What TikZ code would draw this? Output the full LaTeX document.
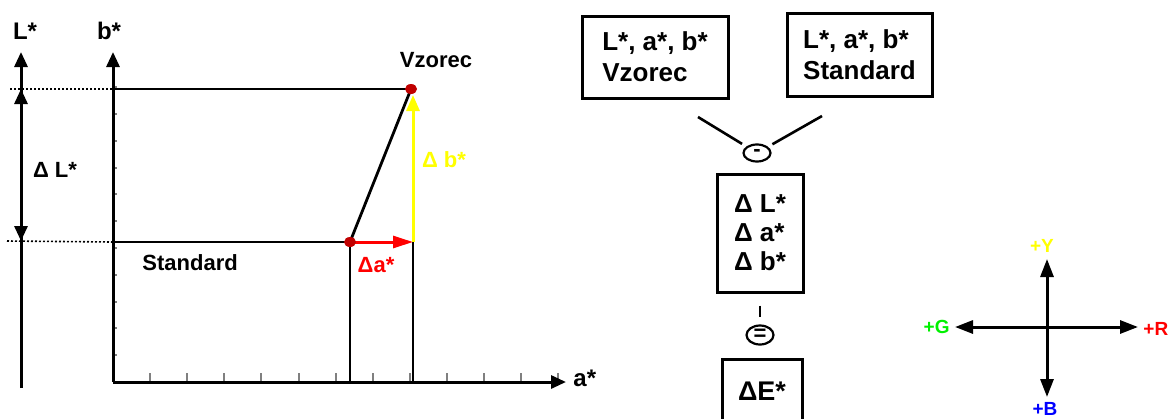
\documentclass[tikz,border=0pt]{standalone}
\usepackage{fontspec}
\setmainfont{Liberation Sans}
\usetikzlibrary{arrows.meta,shapes.geometric}
\definecolor{dotred}{RGB}{192,0,0}
\definecolor{pureyellow}{RGB}{255,255,0}
\definecolor{puregreen}{RGB}{0,240,0}
\definecolor{pureblue}{RGB}{0,0,255}
\definecolor{purered}{RGB}{255,0,0}

\begin{document}
\begin{tikzpicture}[
    x=0.5pt,y=-0.5pt,
    font=\bfseries,
    axis/.style={draw=black, line width=1.5pt, -{Triangle[length=7.5pt,width=6.5pt]}},
    refline/.style={draw=black, line width=1.4pt},
    guide/.style={draw=black, line width=0.8pt, dash pattern=on 1pt off 1pt},
    tickmark/.style={draw=gray, line width=1pt},
    sample/.style={ellipse, fill=dotred, inner sep=0pt, minimum width=6pt, minimum height=5pt},
    valbox/.style={draw=black, line width=1.5pt, align=left, inner sep=0pt,
        font=\fontsize{13}{15.5}\selectfont\bfseries},
    opnode/.style={ellipse, draw=black, line width=1.1pt, inner sep=0pt,
        minimum width=13.5pt, minimum height=8.5pt, font=\fontsize{11}{11}\selectfont\bfseries},
    link/.style={draw=black, line width=1.3pt},
    lab/.style={font=\fontsize{11}{13}\selectfont\bfseries, inner sep=0pt},
    axlab/.style={font=\fontsize{12}{14}\selectfont\bfseries, inner sep=0pt},
    dirlab/.style={font=\fontsize{9.5}{11}\selectfont\bfseries, inner sep=0pt},
    dirarrow/.style={draw=black, line width=1.5pt, -{Triangle[length=9pt,width=6.5pt]}}
]

\useasboundingbox (0,0) rectangle (1172,418);

\begin{scope}
    \coordinate (O) at (113,382);
    \coordinate (bEnd) at (113,52);
    \coordinate (aEnd) at (566,382);
    \coordinate (Lbot) at (21,388);
    \coordinate (Ltop) at (21,52);
    \coordinate (Lv) at (21,89);
    \coordinate (Ls) at (21,241);
    \coordinate (gv) at (10,89);
    \coordinate (gs) at (7,241);
    \coordinate (V) at (411,89);
    \coordinate (S) at (350,242);
    \coordinate (C) at (413,242);


    \foreach \k in {1,...,11} {
        \draw[tickmark] (O) ++(0,-26.8*\k) -- ++(4,0);
    }
    \foreach \k in {1,...,12} {
        \draw[tickmark] (O) ++(37.1*\k,0) -- ++(0,-9);
    }


    \draw[guide] (gv) -- (O |- V);
    \draw[guide] (gs) -- (O |- S);


    \draw[refline] (O |- V) -- (V);
    \draw[refline] (O |- S) -- (S);
    \draw[refline] (S) -- (V);
    \draw[refline] (S) -- (S |- O);
    \draw[refline] (C) -- (C |- O);


    \draw[axis] (O) -- (bEnd);
    \draw[axis] (O) -- (aEnd);
    \draw[axis] (Lbot) -- (Ltop);
    \draw[axis, {Triangle[length=7.5pt,width=6.5pt]}-{Triangle[length=7.5pt,width=6.5pt]}] (Ls) -- (Lv);


    \draw[purered, line width=1.5pt, -{Triangle[length=10pt,width=6pt]}] (S) -- (C);
    \draw[pureyellow, line width=1.5pt, -{Triangle[length=8pt,width=6.5pt]}, shorten >=3pt] (C) -- (C |- V);


    \foreach \P in {V,S} {
        \node[sample] at (\P) {};
    }


    \node[axlab] (Llab) at (25,31) {L*};
    \node[axlab] (blab) at (109,31) {b*};
    \node[axlab, anchor=west] (alab) at (573,378) {a*};
    \node[lab] (dLlab) at (55,170) {Δ L*};
    \node[lab, anchor=west] (stdlab) at (142,263) {Standard};
    \node[lab] (vzlab) at (436,60) {Vzorec};
    \node[lab, text=pureyellow] (dblab) at (444,160) {Δ b*};
    \node[lab, text=purered] (dalab) at (376,265) {Δa*};
\end{scope}


\begin{scope}
    \node[valbox, minimum width=73pt, minimum height=41pt] (vz) at (655,57) {L*, a*, b*\\Vzorec};
    \node[valbox, minimum width=72.5pt, minimum height=41.5pt] (st) at (859.5,54.5) {L*, a*, b*\\Standard};
    \node[opnode] (minus) at (757,153) {-};
    \coordinate (vzend) at (698,117);
    \coordinate (stend) at (822,116);


    \draw[link, shorten >=2.5pt] (vzend) -- (minus);
    \draw[link, shorten >=2.5pt] (stend) -- (minus);


    \node[valbox, font=\fontsize{13}{14.5}\selectfont\bfseries,
        minimum width=43pt, minimum height=59pt] (dlab) at (760,233) {Δ L*\\Δ a*\\Δ b*};
    \node[opnode, minimum height=9.5pt] (equal) at (760,335) {=};
    \draw[link, shorten <=6pt, shorten >=3.5pt] (dlab.south) -- (equal.north);
    \node[valbox, font=\fontsize{13.5}{15}\selectfont\bfseries,
        minimum width=40pt, minimum height=32pt] (dE) at (762,391) {ΔE*};
\end{scope}


\begin{scope}
    \coordinate (X) at (1047,327);
    \coordinate (Yend) at (1047,259);
    \coordinate (Bend) at (1047,397);
    \coordinate (Gend) at (955,327);
    \coordinate (Rend) at (1138,327);


    \foreach \P in {Yend,Bend,Gend,Rend} {
        \draw[dirarrow] (X) -- (\P);
    }


    \node[dirlab, text=pureyellow] (ylab) at (1042,246) {+Y};
    \node[dirlab, text=puregreen, anchor=east] (glab) at (950,327) {+G};
    \node[dirlab, text=purered, anchor=west] (rlab) at (1143,329) {+R};
    \node[dirlab, text=pureblue] (bclab) at (1045,409) {+B};
\end{scope}
\end{tikzpicture}
\end{document}
